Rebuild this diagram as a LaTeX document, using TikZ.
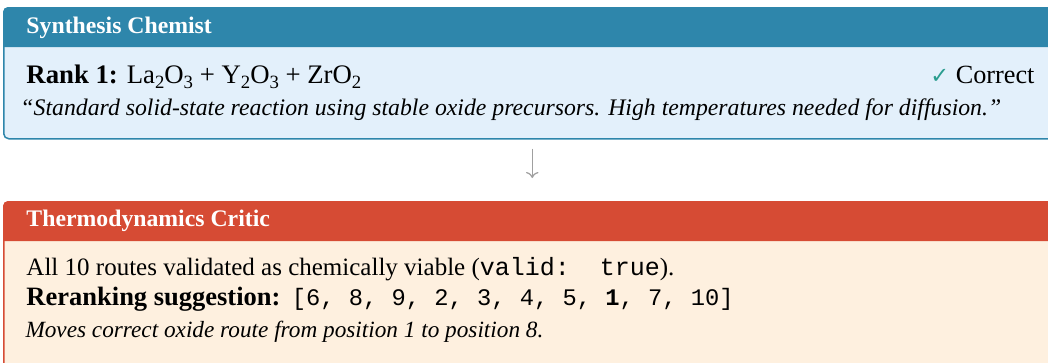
\documentclass[tikz,border=0pt]{standalone}
\usepackage{fontspec}
\setmainfont{Liberation Serif}
\setmonofont{Liberation Mono}
\newfontfamily\symfont{DejaVu Sans}
\usetikzlibrary{positioning,arrows.meta}

\definecolor{chemblue}{RGB}{46,134,171}
\definecolor{chemback}{RGB}{227,240,251}
\definecolor{criticred}{RGB}{214,75,52}
\definecolor{criticback}{RGB}{254,240,223}
\definecolor{checkteal}{RGB}{42,157,143}
\definecolor{arrowgray}{RGB}{160,160,160}

\newcommand{\lowidx}[1]{\raisebox{-0.45ex}{\fontsize{7.5}{8}\selectfont #1}}

\tikzset{
  panel/.style={rounded corners=2pt, line width=0.6pt, minimum width=422.8pt,
    anchor=north west, inner sep=0pt},
  bandtext/.style={anchor=base west, inner sep=0pt, text=white,
    font=\fontsize{9.5}{11}\selectfont\bfseries},
  bodytext/.style={anchor=base west, inner sep=0pt},
  flow/.style={draw=arrowgray, line width=0.5pt, -{To[length=2.4pt,width=5pt]}},
}

\begin{document}
\begin{tikzpicture}[x=0.4pt,y=-0.4pt]
\useasboundingbox (0,0) rectangle (1048,362);

% top panel
\node[panel, draw=chemblue, fill=chemback, minimum height=52.4pt] (chem) at (3,7) {};
\fill[chemblue] ([yshift=-16pt]chem.north west) [rounded corners=2pt] -- (chem.north west)
  -- (chem.north east) [sharp corners] -- ([yshift=-16pt]chem.north east) -- cycle;
\node[bandtext] (chemtitle) at (26,33) {Synthesis Chemist};
\node[bodytext, font=\fontsize{10.7}{12}\selectfont] (rank) at (26,83)
  {\textbf{Rank 1:} La\lowidx{2}O\lowidx{3} + Y\lowidx{2}O\lowidx{3} + ZrO\lowidx{2}};
\node[bodytext, anchor=base east, font=\fontsize{10.5}{12}\selectfont] (verdict) at (1035,83)
  {{\color{checkteal}\symfont\fontsize{9}{10}\selectfont ✓} Correct};
\node[bodytext, font=\fontsize{9.5}{11}\selectfont\itshape] (quote) at (20,115)
  {“Standard solid-state reaction using stable oxide precursors. High temperatures needed for diffusion.”};

% bottom panel
\node[panel, draw=criticred, fill=criticback, minimum height=71.6pt] (critic) at (3,201) {};
\fill[criticred] ([yshift=-16pt]critic.north west) [rounded corners=2pt] -- (critic.north west)
  -- (critic.north east) [sharp corners] -- ([yshift=-16pt]critic.north east) -- cycle;
\node[bandtext] (crittitle) at (26,226) {Thermodynamics Critic};
\node[bodytext, font=\fontsize{10}{12}\selectfont] (valid) at (26,275)
  {All 10 routes validated as chemically viable (\texttt{valid:\ \ true}).};
\node[bodytext, font=\fontsize{10.6}{12}\selectfont] (rerank) at (26,305)
  {\textbf{Reranking suggestion:}\hspace{1pt} {\fontsize{9.5}{11}\selectfont\texttt{[6, 8, 9, 2, 3, 4, 5, \textbf{1}, 7, 10]}}};
\node[bodytext, font=\fontsize{9.3}{11}\selectfont\itshape] (moves) at (25,337)
  {Moves correct oxide route from position 1 to position 8.};

\draw[flow, shorten <=3.6pt, shorten >=9.2pt] (chem) -- (critic);
\end{tikzpicture}
\end{document}
